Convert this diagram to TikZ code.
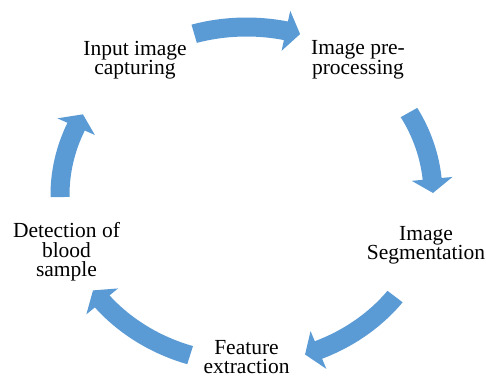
\documentclass[tikz,border=0pt]{standalone}
\usepackage{fontspec}
\setmainfont{Liberation Serif}
\usetikzlibrary{positioning}
\definecolor{cycblue}{RGB}{91,155,213}

% block arrow on the cycle: tail angle, head base angle, tip angle
\newcommand{\cycarrow}[3]{%
	\fill[cycblue] ({196*cos(#1)},{177.5*sin(#1)}) arc[start angle=#1, end angle=#2, x radius=196, y radius=177.5]
		-- ({207*cos(#2)},{188.5*sin(#2)}) -- ({186.5*cos(#3)},{168*sin(#3)}) -- ({166*cos(#2)},{147.5*sin(#2)})
		-- ({177*cos(#2)},{158.5*sin(#2)}) arc[start angle=#2, end angle=#1, x radius=177, y radius=158.5] -- cycle;}

\begin{document}
\begin{tikzpicture}[x=1pt, y=1pt,
	stage/.style={font=\fontsize{21.5}{19.5}\selectfont, align=center, inner sep=0pt}]
	\useasboundingbox (0,0) rectangle (486,378);
	\coordinate (c) at (246.5,183);

	\node[stage] (input) at (135,318) {Input image\\capturing};
	\node[stage] (prep) at (358,318) {Image pre-\\processing};
	\node[stage] (seg) at (426,132.5) {Image\\Segmentation};
	\node[stage] (feat) at (246.5,21) {Feature\\extraction};
	\node[stage] (detect) at (66.5,126) {Detection of\\blood\\sample};

	\begin{scope}[shift={(c)}]
		\cycarrow{106.3}{77.8}{73.3}
		\cycarrow{29.4}{5.5}{0.7}
		\cycarrow{-37.2}{-67.3}{-71.7}
		\cycarrow{252.4}{219.3}{214.6}
		\cycarrow{180.7}{156}{151.3}
	\end{scope}
\end{tikzpicture}
\end{document}
